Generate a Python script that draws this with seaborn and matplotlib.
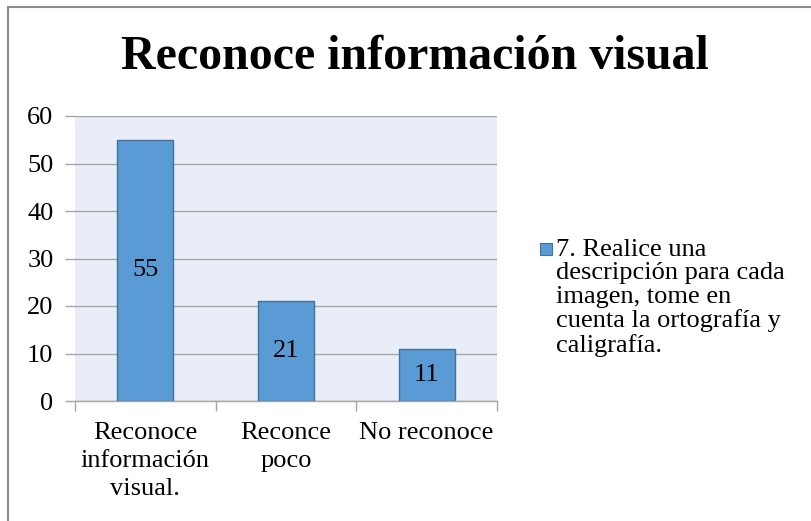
import matplotlib
matplotlib.use("Agg")
import matplotlib.pyplot as plt
import seaborn as sns
import pandas as pd
from matplotlib.patches import Rectangle
from matplotlib.ticker import FixedLocator

# data
categories = ["Reconoce\ninformación\nvisual.", "Reconce\npoco", "No reconoce"]
values = [55, 21, 11]
series_name = "7. Realice una\ndescripción para cada\nimagen, tome en\ncuenta la ortografía y\ncaligrafía."
title = "Reconoce información visual"
y_ticks = [0, 10, 20, 30, 40, 50, 60]

BAR = "#5B9BD5"
GRID = "#A6A6A6"

sns.set_theme(style="white")
plt.rcParams["font.family"] = ["Liberation Serif", "DejaVu Serif"]
plt.rcParams["text.color"] = "black"
plt.rcParams["xtick.color"] = "black"
plt.rcParams["ytick.color"] = "black"

df = pd.DataFrame({"cat": categories, "val": values})

fig = plt.figure(figsize=(8.12, 5.21), dpi=100)
ax = fig.add_axes([75 / 812, 1 - 401 / 521, 422 / 812, 285 / 521])
ax.set_facecolor("#E9EDF7")

sns.barplot(data=df, x="cat", y="val", color=BAR, saturation=1,
            width=0.4, edgecolor="#41719C", linewidth=1, ax=ax, zorder=3)

# value labels centred inside the bars
for i, v in enumerate(values):
    ax.text(i, v / 2, str(v), ha="center", va="center", fontsize=19,
            color="black", zorder=4)

ax.set_ylim(0, 60)
ax.set_xlim(-0.5, 2.5)
ax.set_yticks(y_ticks)
ax.yaxis.grid(True, color=GRID, linewidth=1)
ax.set_axisbelow(True)
ax.tick_params(axis="y", which="major", direction="out", length=7,
               color=GRID, width=1, pad=8.5, labelsize=19, left=True,
               labelcolor="black")
ax.tick_params(axis="x", which="major", length=0, pad=15, labelsize=19,
               labelcolor="black")
ax.xaxis.set_minor_locator(FixedLocator([-0.5, 0.5, 1.5, 2.5]))
ax.tick_params(axis="x", which="minor", direction="out", length=7,
               color=GRID, width=1, bottom=True)
for lbl in ax.get_xticklabels():
    lbl.set_linespacing(1.36)
ax.set_xlabel("")
ax.set_ylabel("")
for side in ["top", "right", "left"]:
    ax.spines[side].set_visible(False)
ax.spines["bottom"].set_color(GRID)
ax.spines["bottom"].set_linewidth(1)

fig.text(0.511, 1 - 57 / 521, title, ha="center", va="center",
         fontsize=34.5, fontweight="bold", color="black")

# legend: key square next to the first line of the wrapped series name
fig.patches.append(Rectangle((540 / 812, 1 - 255 / 521), 12 / 812, 12 / 521,
                             transform=fig.transFigure, facecolor=BAR,
                             edgecolor="#41719C", linewidth=0.8))
fig.text(556 / 812, 1 - 239 / 521, series_name, ha="left", va="top",
         fontsize=19, linespacing=1.08, color="black")

# outer chart border
fig.patches.append(Rectangle((8 / 812, -0.05), 1.1, 1.05 - 7 / 521,
                             transform=fig.transFigure, fill=False,
                             edgecolor="#8C8C8C", linewidth=1.5))

fig.savefig("out.png", dpi=100)
